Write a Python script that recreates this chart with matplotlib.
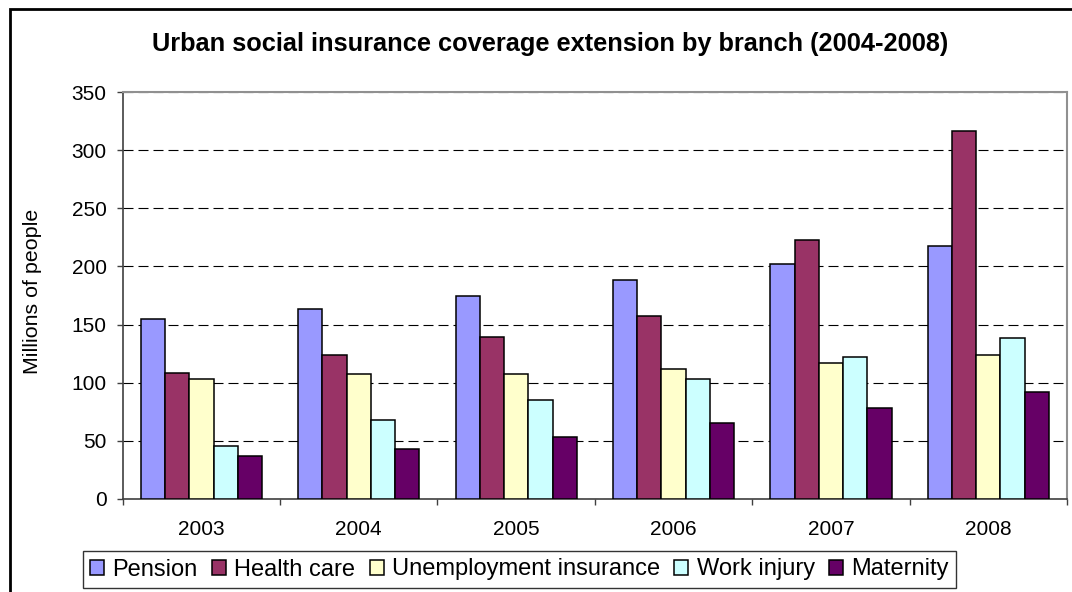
#!/usr/bin/env python3
"""
Urban social insurance coverage by branch, 2003-2008.

Grouped bar chart redrawn in the old Excel style: dashed gridlines,
black bar outlines and a boxed legend under the axis.
"""

import matplotlib.pyplot as plt
import matplotlib.patches as patches
import numpy as np


OUTPUT_PNG = "out.png"

YEARS = ["2003", "2004", "2005", "2006", "2007", "2008"]

SERIES_NAMES = [
    "Pension",
    "Health care",
    "Unemployment insurance",
    "Work injury",
    "Maternity",
]

# millions of people
PENSION = [155, 163, 175, 188, 202, 218]
HEALTH_CARE = [108, 124, 139, 157, 223, 317]
UNEMPLOYMENT = [103, 107, 107, 112, 117, 124]
WORK_INJURY = [45, 68, 85, 103, 122, 138]
MATERNITY = [37, 43, 53, 65, 78, 92]

COLOURS = ["#9999FF", "#993366", "#FFFFCC", "#CCFFFF", "#660066"]

FONT = ["Liberation Sans", "DejaVu Sans"]

FIG_W, FIG_H = 1072, 592
DPI = 100


def px_x(value):
    return value / FIG_W


def px_y(value):
    return 1 - value / FIG_H


def main():
    plt.rcParams["font.family"] = FONT

    values = [PENSION, HEALTH_CARE, UNEMPLOYMENT, WORK_INJURY, MATERNITY]

    fig = plt.figure(figsize=(FIG_W / DPI, FIG_H / DPI), dpi=DPI)
    ax = fig.add_axes([
        px_x(122.7),
        px_y(498.7),
        px_x(1067) - px_x(122.7),
        px_y(92.3) - px_y(498.7),
    ])

    x = np.arange(len(YEARS))
    bar_width = 0.154

    handles = []
    for i, (name, series) in enumerate(zip(SERIES_NAMES, values)):
        bars = ax.bar(
            x + (i - 2) * bar_width,
            series,
            width=bar_width,
            color=COLOURS[i],
            edgecolor="black",
            linewidth=1.1,
            label=name,
            zorder=3,
        )
        handles.append(bars)

    ax.set_xlim(-0.5, len(YEARS) - 0.5)
    ax.set_ylim(0, 350)
    ax.set_yticks(range(0, 351, 50))

    ax.set_xticks(x)
    ax.set_xticklabels(YEARS, fontsize=15)
    ax.set_xticks(np.arange(-0.5, len(YEARS), 1.0), minor=True)
    ax.tick_params(axis="x", which="major", length=0, pad=15)
    ax.tick_params(axis="x", which="minor", length=4.5, width=1,
                   color="#404040", direction="out")
    ax.tick_params(axis="y", length=4.5, width=1, color="#404040",
                   pad=7, labelsize=15)

    ax.yaxis.grid(True, linestyle=(0, (9, 4.5)), color="black",
                  linewidth=0.8, zorder=0)
    ax.set_axisbelow(True)

    for side in ["top", "right"]:
        ax.spines[side].set_color("#909090")
        ax.spines[side].set_linewidth(1.5)
    for side in ["left", "bottom"]:
        ax.spines[side].set_color("#404040")
        ax.spines[side].set_linewidth(1.2)

    fig.text(
        px_x(550.5),
        px_y(44),
        "Urban social insurance coverage extension by branch (2004-2008)",
        ha="center",
        va="center",
        fontsize=18.3,
        fontweight="bold",
    )

    fig.text(
        px_x(33),
        px_y(291),
        "Millions of people",
        ha="center",
        va="center",
        rotation=90,
        fontsize=15.4,
    )

    legend = fig.legend(
        handles=handles,
        labels=SERIES_NAMES,
        loc="center",
        bbox_to_anchor=(px_x(519.5), px_y(569.5)),
        ncol=5,
        fontsize=17,
        frameon=True,
        fancybox=False,
        edgecolor="black",
        handlelength=0.6,
        handleheight=0.6,
        handletextpad=0.35,
        columnspacing=0.6,
        borderpad=0.3,
        borderaxespad=0,
    )
    legend.get_frame().set_linewidth(1.0)

    # outer chart border, cut off by the right and bottom image edges
    border = patches.Rectangle(
        (px_x(10), -0.2),
        1.2,
        px_y(9) + 0.2,
        transform=fig.transFigure,
        fill=False,
        edgecolor="black",
        linewidth=2,
    )
    fig.patches.append(border)

    fig.savefig(OUTPUT_PNG, dpi=DPI)
    plt.close(fig)


if __name__ == "__main__":
    main()
